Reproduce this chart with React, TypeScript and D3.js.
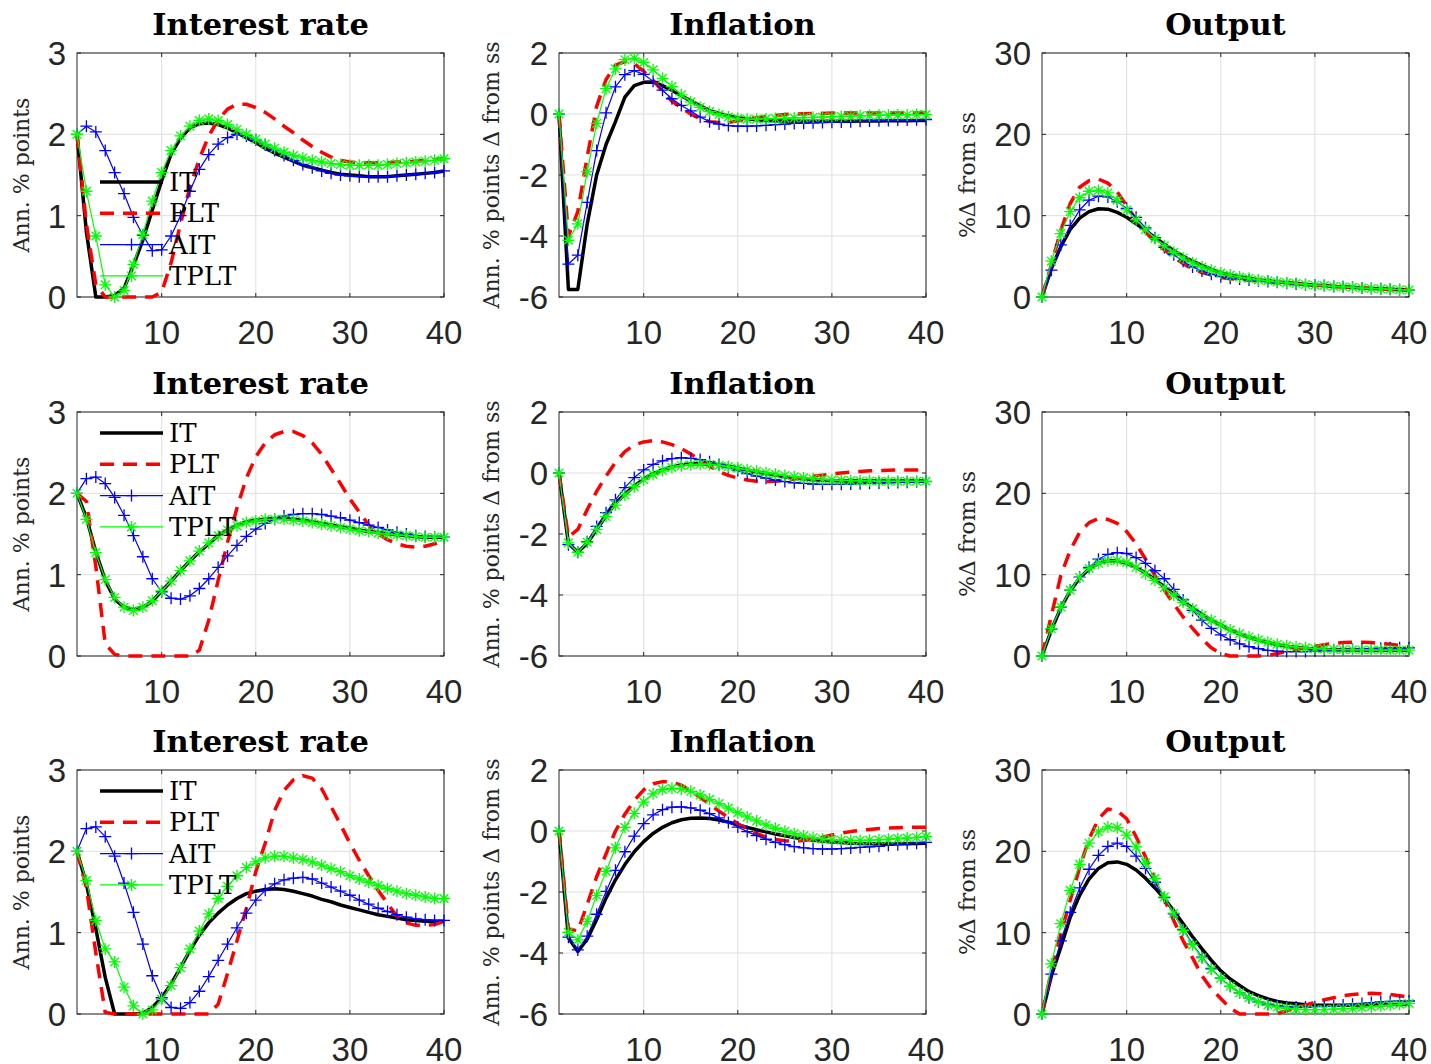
import React from 'react';
import * as d3 from 'd3';

const periods = d3.range(1, 41);
const policies = ['IT', 'PLT', 'AIT', 'TPLT'];
const titles = ['Interest rate', 'Inflation', 'Output'];
const yLabels = ['Ann. % points', 'Ann. % points \u0394 from ss', '%\u0394 from ss'];
const yDomains = [[0, 3], [-6, 2], [0, 30]];
const yTicks = [[0, 1, 2, 3], [-6, -4, -2, 0, 2], [0, 10, 20, 30]];
const xTicks = [10, 20, 30, 40];

// row 1
const rate1IT = [2.0, 0.8, 0, 0, 0.02, 0.11, 0.39, 0.7, 1.07, 1.43, 1.76, 1.95, 2.08, 2.13, 2.14, 2.12, 2.08, 2.02, 1.96, 1.9, 1.83, 1.77, 1.72, 1.67, 1.62, 1.59, 1.56, 1.53, 1.51, 1.5, 1.49, 1.48, 1.48, 1.48, 1.49, 1.5, 1.51, 1.52, 1.53, 1.55];
const rate1PLT = [2.0, 0.9, 0.15, 0, 0, 0, 0, 0, 0, 0.06, 0.42, 0.9, 1.35, 1.7, 1.98, 2.18, 2.31, 2.37, 2.37, 2.33, 2.27, 2.19, 2.1, 2.02, 1.93, 1.85, 1.78, 1.72, 1.68, 1.66, 1.65, 1.65, 1.65, 1.65, 1.66, 1.66, 1.67, 1.68, 1.69, 1.7];
const rate1AIT = [2.0, 2.1, 2.03, 1.8, 1.53, 1.27, 0.98, 0.76, 0.57, 0.58, 0.75, 1.0, 1.3, 1.57, 1.75, 1.88, 1.96, 2.0, 1.98, 1.93, 1.87, 1.8, 1.74, 1.68, 1.63, 1.59, 1.55, 1.52, 1.5, 1.49, 1.48, 1.48, 1.48, 1.48, 1.49, 1.5, 1.51, 1.52, 1.53, 1.55];
const rate1TPLT = [2.0, 1.3, 0.75, 0.15, 0, 0.08, 0.4, 0.77, 1.18, 1.53, 1.8, 1.98, 2.1, 2.17, 2.19, 2.17, 2.12, 2.06, 2.0, 1.94, 1.88, 1.83, 1.78, 1.74, 1.71, 1.68, 1.66, 1.64, 1.63, 1.62, 1.62, 1.62, 1.62, 1.63, 1.64, 1.65, 1.66, 1.67, 1.68, 1.7];
const infl1IT = [0, -5.75, -5.75, -3.6, -2.0, -1.0, -0.25, 0.55, 0.93, 1.04, 1.05, 0.93, 0.78, 0.6, 0.43, 0.27, 0.12, 0.02, -0.06, -0.12, -0.16, -0.19, -0.21, -0.22, -0.23, -0.24, -0.24, -0.24, -0.24, -0.24, -0.24, -0.24, -0.23, -0.23, -0.23, -0.22, -0.22, -0.22, -0.21, -0.21];
const infl1PLT = [0, -4.0, -3.2, -1.4, 0.25, 1.13, 1.6, 1.72, 1.65, 1.4, 1.1, 0.75, 0.42, 0.2, 0, -0.15, -0.25, -0.28, -0.28, -0.22, -0.16, -0.12, -0.08, -0.05, -0.02, 0, 0.01, 0.02, 0.02, 0.03, 0.03, 0.03, 0.03, 0.03, 0.03, 0.03, 0.03, 0.03, 0.03, 0.03];
const infl1AIT = [0, -4.92, -4.63, -2.9, -1.2, 0.04, 0.89, 1.29, 1.42, 1.3, 1.07, 0.78, 0.5, 0.28, 0.1, -0.1, -0.25, -0.33, -0.38, -0.4, -0.4, -0.39, -0.37, -0.35, -0.33, -0.31, -0.3, -0.29, -0.28, -0.27, -0.26, -0.25, -0.24, -0.23, -0.22, -0.21, -0.2, -0.2, -0.19, -0.18];
const infl1TPLT = [0, -4.14, -3.6, -1.89, -0.31, 0.83, 1.48, 1.78, 1.83, 1.69, 1.45, 1.17, 0.9, 0.63, 0.4, 0.22, 0.08, -0.02, -0.1, -0.15, -0.17, -0.17, -0.16, -0.15, -0.14, -0.13, -0.12, -0.11, -0.1, -0.09, -0.08, -0.07, -0.06, -0.05, -0.04, -0.04, -0.03, -0.03, -0.02, -0.02];
const out1IT = [0, 3.5, 6.2, 8.3, 9.7, 10.5, 10.85, 10.8, 10.4, 9.8, 9.0, 8.2, 7.3, 6.5, 5.7, 5.0, 4.4, 3.9, 3.4, 3.0, 2.7, 2.5, 2.3, 2.1, 2.0, 1.85, 1.75, 1.65, 1.55, 1.45, 1.4, 1.3, 1.25, 1.2, 1.1, 1.05, 1.0, 0.95, 0.9, 0.85];
const out1PLT = [0, 4.0, 8.2, 11.5, 13.5, 14.3, 14.5, 14.0, 12.9, 11.2, 9.5, 8.0, 6.8, 5.8, 4.9, 4.1, 3.5, 3.0, 2.7, 2.4, 2.25, 2.15, 2.05, 1.95, 1.85, 1.75, 1.7, 1.6, 1.55, 1.45, 1.4, 1.3, 1.25, 1.2, 1.1, 1.05, 1.0, 0.95, 0.9, 0.85];
const out1AIT = [0, 3.3, 6.4, 8.8, 10.7, 11.9, 12.4, 12.3, 11.7, 10.9, 9.8, 8.5, 7.3, 6.1, 5.2, 4.4, 3.7, 3.2, 2.8, 2.5, 2.3, 2.2, 2.1, 2.0, 1.9, 1.8, 1.7, 1.6, 1.5, 1.45, 1.4, 1.3, 1.25, 1.2, 1.1, 1.05, 1.0, 0.95, 0.9, 0.85];
const out1TPLT = [0, 4.4, 7.8, 10.5, 12.2, 13.0, 13.1, 12.8, 11.9, 10.7, 9.5, 8.3, 7.2, 6.3, 5.5, 4.8, 4.2, 3.7, 3.3, 2.95, 2.7, 2.45, 2.3, 2.1, 2.0, 1.85, 1.75, 1.65, 1.55, 1.45, 1.4, 1.3, 1.25, 1.2, 1.1, 1.05, 1.0, 0.95, 0.9, 0.85];

// row 2
const rate2IT = [2.0, 1.7, 1.28, 0.93, 0.7, 0.6, 0.57, 0.6, 0.67, 0.8, 0.92, 1.05, 1.17, 1.28, 1.38, 1.48, 1.55, 1.61, 1.65, 1.67, 1.68, 1.69, 1.69, 1.68, 1.67, 1.65, 1.63, 1.61, 1.59, 1.57, 1.55, 1.53, 1.52, 1.5, 1.49, 1.48, 1.47, 1.46, 1.46, 1.46];
const rate2PLT = [2.0, 1.9, 1.1, 0.15, 0.02, 0, 0, 0, 0, 0, 0, 0, 0, 0.07, 0.44, 0.93, 1.4, 1.82, 2.19, 2.45, 2.62, 2.72, 2.76, 2.76, 2.71, 2.62, 2.48, 2.3, 2.12, 1.93, 1.77, 1.61, 1.5, 1.43, 1.38, 1.35, 1.34, 1.35, 1.38, 1.42];
const rate2AIT = [2.0, 2.18, 2.2, 2.12, 1.95, 1.73, 1.48, 1.22, 0.95, 0.79, 0.71, 0.7, 0.74, 0.83, 0.95, 1.09, 1.23, 1.36, 1.47, 1.56, 1.63, 1.68, 1.72, 1.74, 1.75, 1.75, 1.74, 1.72, 1.7, 1.67, 1.64, 1.61, 1.58, 1.55, 1.52, 1.5, 1.48, 1.47, 1.46, 1.46];
const rate2TPLT = [2.0, 1.68, 1.27, 0.94, 0.72, 0.6, 0.56, 0.6, 0.68, 0.8, 0.92, 1.05, 1.17, 1.29, 1.39, 1.48, 1.55, 1.6, 1.64, 1.66, 1.68, 1.68, 1.68, 1.67, 1.66, 1.64, 1.62, 1.6, 1.58, 1.56, 1.54, 1.53, 1.51, 1.5, 1.49, 1.48, 1.47, 1.46, 1.46, 1.46];
const infl2IT = [0, -2.3, -2.6, -2.3, -1.85, -1.4, -1.0, -0.7, -0.42, -0.2, -0.02, 0.1, 0.2, 0.26, 0.3, 0.31, 0.3, 0.27, 0.22, 0.16, 0.1, 0.04, -0.02, -0.07, -0.12, -0.16, -0.19, -0.22, -0.24, -0.25, -0.26, -0.26, -0.26, -0.26, -0.26, -0.26, -0.26, -0.26, -0.26, -0.26];
const infl2PLT = [0, -2.1, -1.85, -1.2, -0.6, -0.1, 0.35, 0.7, 0.92, 1.02, 1.06, 1.02, 0.93, 0.8, 0.62, 0.42, 0.22, 0.05, -0.08, -0.17, -0.23, -0.27, -0.28, -0.27, -0.24, -0.2, -0.16, -0.11, -0.07, -0.03, 0, 0.03, 0.05, 0.07, 0.08, 0.09, 0.1, 0.1, 0.1, 0.1];
const infl2AIT = [0, -2.35, -2.6, -2.25, -1.75, -1.3, -0.88, -0.48, -0.15, 0.1, 0.28, 0.4, 0.47, 0.5, 0.48, 0.44, 0.37, 0.28, 0.18, 0.08, -0.02, -0.1, -0.17, -0.23, -0.28, -0.32, -0.34, -0.36, -0.37, -0.37, -0.37, -0.36, -0.35, -0.34, -0.33, -0.32, -0.31, -0.3, -0.29, -0.28];
const infl2TPLT = [0, -2.29, -2.6, -2.27, -1.85, -1.43, -1.05, -0.72, -0.45, -0.22, -0.05, 0.08, 0.18, 0.24, 0.27, 0.29, 0.28, 0.25, 0.21, 0.16, 0.11, 0.06, 0.01, -0.04, -0.08, -0.12, -0.16, -0.19, -0.21, -0.23, -0.24, -0.25, -0.26, -0.26, -0.27, -0.27, -0.27, -0.27, -0.27, -0.27];
const out2IT = [0, 3.2, 5.9, 8.0, 9.6, 10.7, 11.4, 11.7, 11.7, 11.4, 10.9, 10.2, 9.4, 8.5, 7.6, 6.7, 5.9, 5.1, 4.4, 3.8, 3.2, 2.7, 2.3, 1.95, 1.65, 1.4, 1.2, 1.05, 0.95, 0.85, 0.8, 0.77, 0.75, 0.73, 0.72, 0.71, 0.7, 0.7, 0.7, 0.7];
const out2PLT = [0, 5.0, 9.9, 13.0, 15.2, 16.4, 16.9, 16.8, 16.3, 15.3, 13.8, 11.9, 9.9, 8.1, 6.4, 4.8, 3.4, 2.1, 1.0, 0.3, 0, 0, 0, 0, 0.05, 0.3, 0.55, 0.8, 1.0, 1.2, 1.4, 1.55, 1.65, 1.7, 1.7, 1.65, 1.55, 1.45, 1.3, 1.1];
const out2AIT = [0, 3.3, 6.0, 8.1, 9.7, 10.9, 11.9, 12.5, 12.7, 12.6, 12.1, 11.4, 10.5, 9.5, 8.2, 6.9, 5.6, 4.4, 3.4, 2.6, 2.0, 1.5, 1.15, 0.9, 0.7, 0.6, 0.55, 0.55, 0.55, 0.6, 0.65, 0.7, 0.75, 0.8, 0.85, 0.9, 0.95, 1.0, 1.0, 1.0];
const out2TPLT = [0, 3.37, 6.04, 8.1, 9.66, 10.77, 11.4, 11.7, 11.75, 11.5, 10.9, 10.1, 9.3, 8.4, 7.5, 6.6, 5.8, 5.0, 4.4, 3.8, 3.2, 2.75, 2.35, 2.0, 1.7, 1.45, 1.25, 1.1, 1.0, 0.9, 0.85, 0.8, 0.78, 0.76, 0.75, 0.74, 0.73, 0.72, 0.72, 0.72];

// row 3
const rate3IT = [2.0, 1.6, 1.05, 0.45, 0, 0, 0, 0.01, 0.08, 0.2, 0.37, 0.57, 0.78, 0.97, 1.12, 1.24, 1.34, 1.42, 1.48, 1.51, 1.53, 1.54, 1.53, 1.51, 1.48, 1.45, 1.41, 1.38, 1.34, 1.31, 1.28, 1.25, 1.22, 1.2, 1.18, 1.16, 1.15, 1.14, 1.14, 1.14];
const rate3PLT = [2.0, 1.55, 0.75, 0.02, 0, 0, 0, 0, 0, 0, 0, 0, 0, 0, 0, 0.12, 0.5, 0.9, 1.3, 1.75, 2.1, 2.5, 2.75, 2.88, 2.93, 2.9, 2.77, 2.55, 2.33, 2.1, 1.89, 1.7, 1.52, 1.36, 1.2, 1.12, 1.09, 1.09, 1.1, 1.14];
const rate3AIT = [2.0, 2.28, 2.3, 2.18, 1.94, 1.61, 1.25, 0.86, 0.47, 0.2, 0.08, 0.07, 0.14, 0.28, 0.46, 0.66, 0.86, 1.06, 1.24, 1.4, 1.52, 1.6, 1.65, 1.67, 1.68, 1.66, 1.61, 1.56, 1.51, 1.46, 1.4, 1.35, 1.3, 1.26, 1.22, 1.19, 1.17, 1.16, 1.15, 1.15];
const rate3TPLT = [2.0, 1.64, 1.15, 0.8, 0.64, 0.33, 0.1, 0, 0.05, 0.18, 0.35, 0.57, 0.8, 1.02, 1.23, 1.42, 1.57, 1.7, 1.8, 1.87, 1.92, 1.94, 1.94, 1.92, 1.9, 1.87, 1.83, 1.79, 1.75, 1.7, 1.66, 1.62, 1.58, 1.54, 1.51, 1.48, 1.46, 1.44, 1.42, 1.42];
const infl3IT = [0, -3.5, -3.95, -3.55, -2.9, -2.2, -1.6, -1.1, -0.68, -0.35, -0.08, 0.12, 0.27, 0.37, 0.42, 0.43, 0.41, 0.36, 0.29, 0.21, 0.12, 0.04, -0.03, -0.1, -0.16, -0.21, -0.26, -0.3, -0.33, -0.36, -0.38, -0.4, -0.41, -0.42, -0.42, -0.42, -0.42, -0.42, -0.41, -0.4];
const infl3PLT = [0, -3.2, -3.28, -2.4, -1.5, -0.75, 0, 0.55, 1.0, 1.35, 1.55, 1.62, 1.6, 1.5, 1.32, 1.1, 0.88, 0.65, 0.44, 0.24, 0.07, -0.08, -0.2, -0.28, -0.32, -0.33, -0.31, -0.26, -0.2, -0.13, -0.07, -0.02, 0.02, 0.05, 0.08, 0.1, 0.11, 0.12, 0.12, 0.12];
const infl3AIT = [0, -3.48, -3.9, -3.45, -2.73, -1.98, -1.29, -0.68, -0.17, 0.24, 0.53, 0.7, 0.78, 0.79, 0.76, 0.68, 0.57, 0.43, 0.28, 0.13, -0.02, -0.15, -0.27, -0.37, -0.45, -0.51, -0.55, -0.58, -0.59, -0.59, -0.58, -0.56, -0.54, -0.52, -0.5, -0.47, -0.45, -0.42, -0.4, -0.37];
const infl3TPLT = [0, -3.32, -3.57, -2.96, -2.11, -1.32, -0.55, 0.12, 0.58, 0.95, 1.22, 1.36, 1.4, 1.38, 1.3, 1.18, 1.04, 0.9, 0.75, 0.6, 0.46, 0.33, 0.2, 0.09, -0.01, -0.09, -0.16, -0.22, -0.26, -0.29, -0.3, -0.31, -0.31, -0.3, -0.29, -0.27, -0.25, -0.23, -0.21, -0.18];
const out3IT = [0, 4.7, 8.2, 11.9, 14.6, 16.6, 17.9, 18.6, 18.7, 18.4, 17.7, 16.7, 15.5, 14.2, 12.7, 11.1, 9.5, 8.0, 6.6, 5.3, 4.3, 3.5, 2.75, 2.25, 1.85, 1.55, 1.35, 1.25, 1.15, 1.1, 1.08, 1.07, 1.07, 1.08, 1.1, 1.12, 1.14, 1.16, 1.18, 1.2];
const out3PLT = [0, 5.3, 9.8, 14.0, 18.0, 21.5, 24.0, 25.2, 25.0, 24.0, 21.8, 19.3, 16.6, 14.1, 11.5, 9.0, 6.9, 4.7, 3.1, 1.9, 0.7, 0, 0, 0, 0, 0.05, 0.4, 0.75, 1.1, 1.45, 1.75, 2.0, 2.25, 2.4, 2.5, 2.55, 2.5, 2.4, 2.25, 2.05];
const out3AIT = [0, 4.9, 9.0, 12.5, 15.5, 17.8, 19.5, 20.6, 21.0, 20.6, 19.4, 17.9, 16.2, 14.3, 12.3, 10.4, 8.6, 7.0, 5.6, 4.4, 3.4, 2.6, 2.0, 1.5, 1.2, 1.0, 0.9, 0.85, 0.85, 0.9, 0.95, 1.0, 1.1, 1.2, 1.3, 1.4, 1.5, 1.55, 1.6, 1.6];
const out3TPLT = [0, 6.17, 11.1, 15.2, 18.4, 21.0, 22.4, 23.0, 22.9, 22.0, 20.55, 18.6, 16.65, 14.4, 12.4, 10.3, 8.5, 6.9, 5.5, 4.4, 3.4, 2.6, 2.0, 1.5, 1.1, 0.85, 0.7, 0.6, 0.55, 0.55, 0.55, 0.6, 0.65, 0.7, 0.8, 0.9, 1.0, 1.1, 1.2, 1.3];

// rows x columns x policies
const panels = [
  [[rate1IT, rate1PLT, rate1AIT, rate1TPLT], [infl1IT, infl1PLT, infl1AIT, infl1TPLT], [out1IT, out1PLT, out1AIT, out1TPLT]],
  [[rate2IT, rate2PLT, rate2AIT, rate2TPLT], [infl2IT, infl2PLT, infl2AIT, infl2TPLT], [out2IT, out2PLT, out2AIT, out2TPLT]],
  [[rate3IT, rate3PLT, rate3AIT, rate3TPLT], [infl3IT, infl3PLT, infl3AIT, infl3TPLT], [out3IT, out3PLT, out3AIT, out3TPLT]],
];

const width = 1431;
const height = 1064;
const colLeft = [77, 559, 1042];
const rowTop = [53, 412, 770];
const plotW = 367;
const plotH = 244;
const legendTop = [129, 21, 21];
const legendStep = 31.3;
const yLabelGap = [48, 60, 67];

const axisColor = '#262626';
const gridColor = '#dfdfdf';
const sansFont = '"Liberation Sans", Arial, sans-serif';
const serifFont = '"DejaVu Serif", serif';

const styles = [
  { color: '#000000', width: 3.5, dash: undefined, marker: null },
  { color: '#ff0000', width: 3.5, dash: '14 9', marker: null },
  { color: '#0000ff', width: 1.2, dash: undefined, marker: 'plus' },
  { color: '#00ff00', width: 1.2, dash: undefined, marker: 'star' },
];

const plusPath = 'M-6,0H6M0,-6V6';
const starPath = 'M-6,0H6M0,-6V6M-4.3,-4.3L4.3,4.3M-4.3,4.3L4.3,-4.3';

function Marker({ kind, cx, cy, color }: { kind: string | null; cx: number; cy: number; color: string }) {
  if (!kind) return null;
  return (
    <path
      d={kind === 'plus' ? plusPath : starPath}
      transform={`translate(${cx},${cy})`}
      stroke={color}
      strokeWidth={1.3}
      fill="none"
    />
  );
}

function Panel({ row, col }: { row: number; col: number }) {
  const left = colLeft[col];
  const top = rowTop[row];
  const x = d3.scaleLinear().domain([1, 40]).range([left, left + plotW]);
  const y = d3.scaleLinear().domain(yDomains[col]).range([top + plotH, top]);
  const line = d3
    .line<number>()
    .x((_, i) => x(periods[i]))
    .y((d) => y(d));
  const series = panels[row][col];

  return (
    <g>
      {/* grid */}
      {xTicks.map((t) => (
        <line key={'gx' + t} x1={x(t)} x2={x(t)} y1={top} y2={top + plotH} stroke={gridColor} strokeWidth={1} />
      ))}
      {yTicks[col].map((t) => (
        <line key={'gy' + t} x1={left} x2={left + plotW} y1={y(t)} y2={y(t)} stroke={gridColor} strokeWidth={1} />
      ))}

      {/* box and ticks */}
      <rect x={left} y={top} width={plotW} height={plotH} fill="none" stroke={axisColor} strokeWidth={1} />
      {xTicks.map((t) => (
        <g key={'tx' + t}>
          <line x1={x(t)} x2={x(t)} y1={top + plotH} y2={top + plotH - 4} stroke={axisColor} />
          <line x1={x(t)} x2={x(t)} y1={top} y2={top + 4} stroke={axisColor} />
          <text
            x={x(t)}
            y={top + plotH + 47}
            textAnchor="middle"
            fontFamily={sansFont}
            fontSize={33}
            fill={axisColor}
          >
            {t}
          </text>
        </g>
      ))}
      {yTicks[col].map((t) => (
        <g key={'ty' + t}>
          <line x1={left} x2={left + 4} y1={y(t)} y2={y(t)} stroke={axisColor} />
          <line x1={left + plotW} x2={left + plotW - 4} y1={y(t)} y2={y(t)} stroke={axisColor} />
          <text
            x={left - 11}
            y={y(t)}
            dy="0.36em"
            textAnchor="end"
            fontFamily={sansFont}
            fontSize={33}
            fill={axisColor}
          >
            {t}
          </text>
        </g>
      ))}

      {/* title and y label */}
      <text
        x={left + plotW / 2}
        y={top - 18}
        textAnchor="middle"
        fontFamily={serifFont}
        fontWeight="bold"
        fontSize={30.5}
        fill="#000"
      >
        {titles[col]}
      </text>
      <text
        transform={`translate(${left - yLabelGap[col]},${top + plotH / 2}) rotate(-90)`}
        textAnchor="middle"
        fontFamily={serifFont}
        fontSize={22}
        fill={axisColor}
      >
        {yLabels[col]}
      </text>

      {/* series */}
      {series.map((values, s) => {
        const st = styles[s];
        return (
          <g key={policies[s]}>
            <path
              d={line(values) ?? ''}
              fill="none"
              stroke={st.color}
              strokeWidth={st.width}
              strokeDasharray={st.dash}
              strokeLinejoin="round"
            />
            {st.marker &&
              values.map((v, i) => (
                <Marker key={i} kind={st.marker} cx={x(periods[i])} cy={y(v)} color={st.color} />
              ))}
          </g>
        );
      })}

      {/* legend */}
      {col === 0 &&
        policies.map((p, s) => {
          const st = styles[s];
          const ly = top + legendTop[row] + s * legendStep;
          const x0 = left + 23;
          const x1 = left + 86;
          return (
            <g key={'lg' + p}>
              <line
                x1={x0}
                x2={x1}
                y1={ly}
                y2={ly}
                stroke={st.color}
                strokeWidth={st.width}
                strokeDasharray={st.dash}
              />
              <Marker kind={st.marker} cx={(x0 + x1) / 2} cy={ly} color={st.color} />
              <text x={left + 92} y={ly} dy="0.35em" fontFamily={serifFont} fontSize={26} fill="#000">
                {p}
              </text>
            </g>
          );
        })}
    </g>
  );
}

export default function App() {
  return (
    <svg
      width={width}
      height={height}
      style={{ position: 'absolute', left: 0, top: 0, background: '#fff' }}
    >
      <rect width={width} height={height} fill="#fff" />
      {[0, 1, 2].map((r) => [0, 1, 2].map((c) => <Panel key={`${r}-${c}`} row={r} col={c} />))}
    </svg>
  );
}
